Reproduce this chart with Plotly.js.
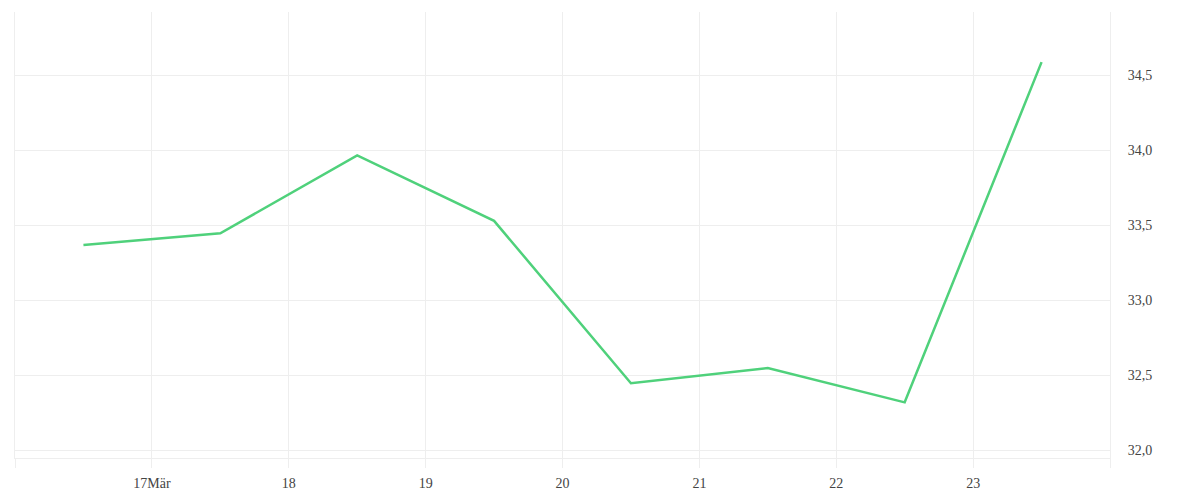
<!DOCTYPE html>
<html>
<head>
<meta charset="utf-8">
<script src="https://cdn.plot.ly/plotly-3.0.1.min.js"></script>
<style>html,body{margin:0;padding:0;background:#fff;}#chart{width:1200px;height:500px;}</style>
</head>
<body>
<div id="chart"></div>
<script>
// Data
const dates = ['2020-03-16 12:00','2020-03-17 12:00','2020-03-18 12:00','2020-03-19 12:00',
               '2020-03-20 12:00','2020-03-21 12:00','2020-03-22 12:00','2020-03-23 12:00'];
const values = [33.367, 33.445, 33.964, 33.528, 32.445, 32.547, 32.318, 34.586];
const tickDates = ['2020-03-16','2020-03-17','2020-03-18','2020-03-19','2020-03-20',
                   '2020-03-21','2020-03-22','2020-03-23','2020-03-24'];
const tickLabels = ['','17Mär','18','19','20','21','22','23',''];
const yTicks = [32.0, 32.5, 33.0, 33.5, 34.0, 34.5];
const yTickLabels = ['32,0','32,5','33,0','33,5','34,0','34,5'];

const grid = '#eeeeee';
const trace = {
  x: dates, y: values, type: 'scatter', mode: 'lines',
  line: {color: '#4fd17b', width: 2.5},
  hoverinfo: 'none'
};
const layout = {
  width: 1200, height: 500,
  margin: {l: 15, r: 90, t: 12, b: 42},
  paper_bgcolor: '#ffffff', plot_bgcolor: '#ffffff',
  showlegend: false,
  font: {family: '"Liberation Serif", "Times New Roman", serif', size: 14, color: '#444444'},
  xaxis: {
    type: 'date',
    range: ['2020-03-16 00:00', '2020-03-24 00:00'],
    tickmode: 'array', tickvals: tickDates, ticktext: tickLabels,
    showgrid: true, gridcolor: grid, gridwidth: 1,
    showline: true, linecolor: grid, linewidth: 1,
    ticks: 'outside', ticklen: 9, tickcolor: grid, tickwidth: 1,
    ticklabelstandoff: 3,
    zeroline: false, fixedrange: true
  },
  yaxis: {
    side: 'right',
    range: [31.947, 34.92],
    tickmode: 'array', tickvals: yTicks, ticktext: yTickLabels,
    showgrid: true, gridcolor: grid, gridwidth: 1,
    showline: true, mirror: true, linecolor: grid, linewidth: 1,
    ticks: '', ticklabelstandoff: 14,
    zeroline: false, fixedrange: true
  }
};
Plotly.newPlot('chart', [trace], layout, {displayModeBar: false, staticPlot: true});
</script>
</body>
</html>
